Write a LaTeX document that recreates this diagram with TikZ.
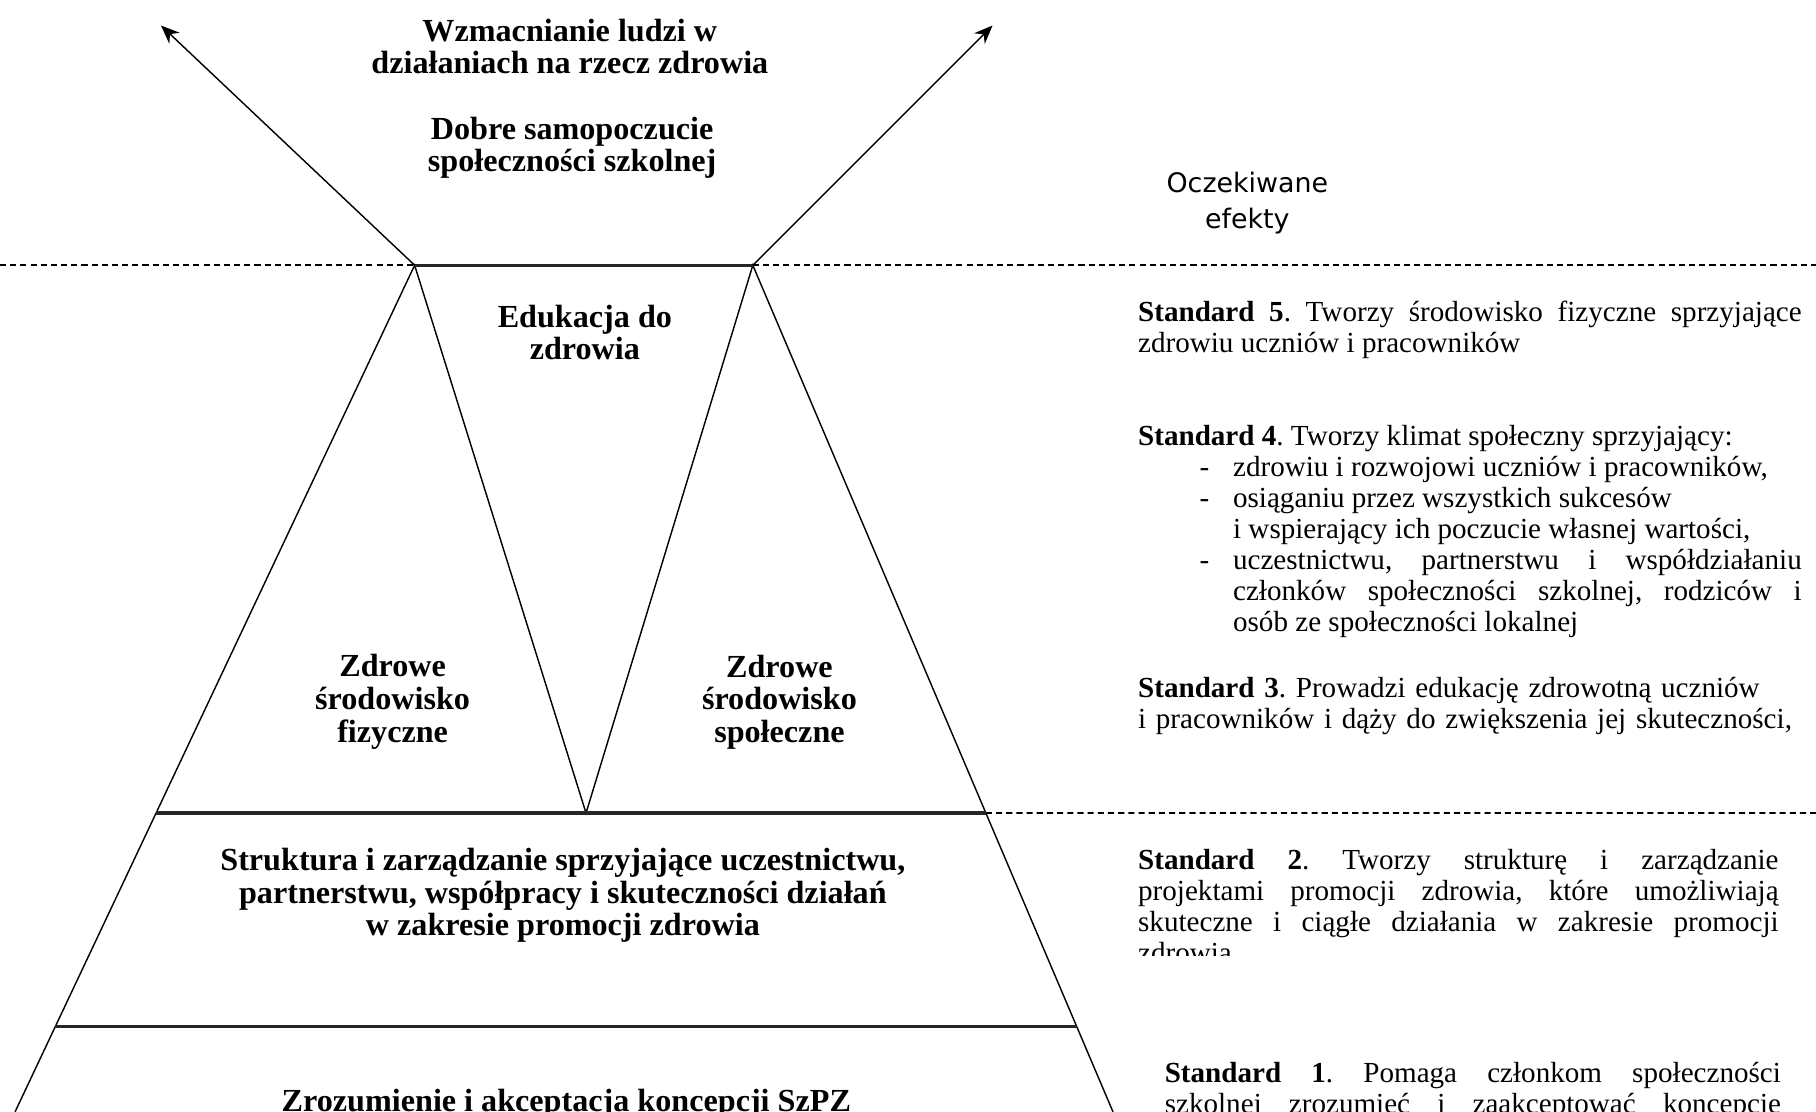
\documentclass[tikz,border=0pt]{standalone}
\usepackage{fontspec}
\setmainfont{Liberation Serif}
\newfontfamily\effectsfont{DejaVu Sans}
\usetikzlibrary{arrows.meta,positioning,calc}
\frenchspacing

\newcommand{\effectitem}[1]{\par\noindent\hangindent=0.82cm\hangafter=1\hspace*{0.53cm}\makebox[0.29cm][l]{-}#1\par}

\tikzset{
    pillar/.style={line width=0.35pt},
    level/.style={line width=0.75pt, black!85},
    border/.style={line width=0.4pt, dash pattern=on 1.5pt off 1pt},
    outcome/.style={-{Stealth[length=1.6mm, width=1.3mm]}, line width=0.35pt},
    area/.style={font=\bfseries\fontsize{7.9}{8}\selectfont, align=center, inner sep=0pt},
    effects/.style={font=\effectsfont\fontsize{6.6}{8.8}\selectfont, align=center, inner sep=0pt},
    standard/.style={font=\fontsize{7.15}{7.6}\selectfont, anchor=base west, inner sep=0pt, text width=#1, align=justify},
    standard/.default=5.73cm
}

\begin{document}
\begin{tikzpicture}
    \useasboundingbox (0,0) rectangle (15.68,-9.60);
    \clip (0,0) rectangle (15.68,-9.60);

    % Pyramid corners
    \coordinate (apexL) at (3.58,-2.29);
    \coordinate (apexR) at (6.50,-2.29);
    \coordinate (vtip) at (5.06,-7.02);
    \coordinate (footL) at (0.13,-9.60);
    \coordinate (footR) at (9.61,-9.60);
    \coordinate (midL) at ($(apexL)!0.647!(footL)$);
    \coordinate (midR) at ($(apexR)!0.647!(footR)$);
    \coordinate (lowL) at ($(apexL)!0.899!(footL)$);
    \coordinate (lowR) at ($(apexR)!0.899!(footR)$);
    \coordinate (tipL) at (1.39,-0.22);
    \coordinate (tipR) at (8.57,-0.22);
    \coordinate (edgeTL) at (0,-2.29);
    \coordinate (edgeTR) at (15.68,-2.29);
    \coordinate (edgeMR) at (15.68,-7.02);

    % Pyramid sides
    \draw[pillar] (footL) -- (apexL) -- (vtip) -- (apexR) -- (footR);

    % Levels
    \draw[level] (apexL) -- (apexR);
    \draw[level] (midL) -- (midR);
    \draw[level] (lowL) -- (lowR);
    \draw[border] (edgeTL) -- (apexL);
    \draw[border] (apexR) -- (edgeTR);
    \draw[border] (midR) -- (edgeMR);

    % Outcome arrows
    \draw[outcome] (apexL) -- (tipL);
    \draw[outcome] (apexR) -- (tipR);

    % Pyramid labels
    \node[area] (uplift) at (4.92,-0.40) {Wzmacnianie ludzi w\\działaniach na rzecz zdrowia};
    \node[area] (wellbeing) at (4.94,-1.275) {Dobre samopoczucie\\społeczności szkolnej};
    \node[area] (education) at (5.05,-2.87) {Edukacja do\\zdrowia};
    \node[area] (physical) at (3.39,-6.06) {Zdrowe\\środowisko\\fizyczne};
    \node[area] (social) at (6.73,-6.06) {Zdrowe\\środowisko\\społeczne};
    \node[area] (structure) at (4.86,-7.73) {Struktura i zarządzanie sprzyjające uczestnictwu,\\partnerstwu, współpracy i skuteczności działań\\w zakresie promocji zdrowia};
    \node[area] (concept) at (4.89,-9.53) {Zrozumienie i akceptacja koncepcji SzPZ};

    % Expected effects
    \node[effects] (effects) at (10.77,-1.755) {Oczekiwane\\efekty};

    \node[standard] (std5) at (9.82,-2.78) {\textbf{Standard 5}. Tworzy środowisko fizyczne sprzyjające \linebreak zdrowiu uczniów i pracowników};
    \node[standard] (std4) at (9.82,-3.85) {\textbf{Standard 4}. Tworzy klimat społeczny sprzyjający:
        \effectitem{zdrowiu i rozwojowi uczniów i pracowników,}
        \effectitem{osiąganiu przez wszystkich sukcesów\newline i wspierający ich poczucie własnej wartości,}
        \effectitem{uczestnictwu, partnerstwu i współdziałaniu \linebreak członków społeczności szkolnej, rodziców i \linebreak osób ze społeczności lokalnej}};
    \node[standard, align=left] (std3) at (9.82,-6.02) {\textbf{Standard 3}. Prowadzi edukację zdrowotną uczniów\\i pracowników i dąży do zwiększenia jej skuteczności,};
    \begin{scope}
        \clip (9.70,-6.90) rectangle (15.68,-8.25);
        \node[standard=5.53cm] (std2) at (9.82,-7.51) {\textbf{Standard 2}. Tworzy strukturę i zarządzanie \linebreak projektami promocji zdrowia, które umożliwiają \linebreak skuteczne i ciągłe działania w zakresie promocji \linebreak zdrowia};
    \end{scope}
    \node[standard=5.32cm] (std1) at (10.05,-9.35) {\parfillskip=0pt \textbf{Standard 1}. Pomaga członkom społeczności \linebreak szkolnej zrozumieć i zaakceptować koncepcję\par};
\end{tikzpicture}
\end{document}
